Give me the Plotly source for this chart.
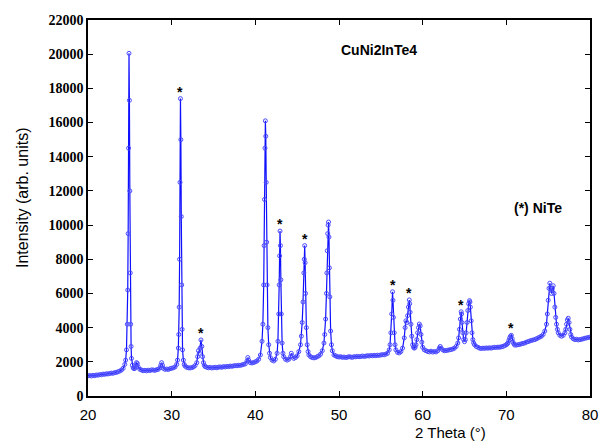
import plotly.graph_objects as go

# ---- data ----
two_theta = [
    20.0, 20.2, 20.4, 20.6, 20.8, 21.0, 21.2, 21.4, 21.6, 21.8, 22.0, 22.2, 22.4, 22.6, 22.8, 23.0,
    23.2, 23.4, 23.6, 23.8, 24.0, 24.2, 24.4, 24.5, 24.6, 24.7, 24.75, 24.8, 24.85, 24.9, 24.95,
    25.0, 25.05, 25.1, 25.15, 25.2, 25.3, 25.4, 25.5, 25.6, 25.7, 25.8, 25.9, 26.0, 26.2, 26.4,
    26.6, 26.8, 27.0, 27.2, 27.4, 27.6, 27.8, 28.0, 28.2, 28.4, 28.6, 28.7, 28.8, 28.9, 29.0,
    29.2, 29.4, 29.6, 29.8, 30.0, 30.2, 30.4, 30.6, 30.7, 30.8, 30.85, 30.9, 30.95, 31.0, 31.05,
    31.1, 31.15, 31.2, 31.25, 31.3, 31.4, 31.5, 31.6, 31.8, 32.0, 32.2, 32.4, 32.6, 32.8, 33.0,
    33.1, 33.2, 33.3, 33.4, 33.5, 33.6, 33.7, 33.8, 33.9, 34.0, 34.2, 34.4, 34.6, 34.8, 35.0,
    35.2, 35.4, 35.6, 35.8, 36.0, 36.2, 36.4, 36.6, 36.8, 37.0, 37.2, 37.4, 37.6, 37.8, 38.0,
    38.2, 38.4, 38.6, 38.8, 39.0, 39.1, 39.2, 39.4, 39.6, 39.8, 40.0, 40.2, 40.4, 40.6, 40.8,
    40.9, 41.0, 41.05, 41.1, 41.15, 41.2, 41.25, 41.3, 41.35, 41.4, 41.5, 41.6, 41.7, 41.8, 42.0,
    42.2, 42.4, 42.6, 42.7, 42.8, 42.85, 42.9, 42.95, 43.0, 43.05, 43.1, 43.2, 43.3, 43.4, 43.6,
    43.8, 44.0, 44.2, 44.3, 44.4, 44.6, 44.8, 45.0, 45.2, 45.4, 45.5, 45.6, 45.7, 45.8, 45.85,
    45.9, 45.95, 46.0, 46.1, 46.2, 46.3, 46.4, 46.6, 46.8, 47.0, 47.2, 47.4, 47.6, 47.8, 48.0,
    48.2, 48.3, 48.4, 48.5, 48.55, 48.6, 48.65, 48.7, 48.75, 48.8, 48.85, 48.9, 49.0, 49.1, 49.2,
    49.4, 49.6, 49.8, 50.0, 50.2, 50.4, 50.6, 50.8, 51.0, 51.2, 51.4, 51.6, 51.8, 52.0, 52.2,
    52.4, 52.6, 52.8, 53.0, 53.2, 53.4, 53.6, 53.8, 54.0, 54.2, 54.4, 54.6, 54.8, 55.0, 55.2,
    55.4, 55.6, 55.8, 56.0, 56.1, 56.2, 56.3, 56.4, 56.45, 56.5, 56.6, 56.7, 56.8, 57.0, 57.2,
    57.4, 57.6, 57.8, 57.9, 58.0, 58.1, 58.2, 58.3, 58.4, 58.45, 58.5, 58.6, 58.7, 58.8, 58.9,
    59.0, 59.1, 59.2, 59.3, 59.4, 59.5, 59.6, 59.7, 59.8, 59.9, 60.0, 60.2, 60.4, 60.6, 60.8,
    61.0, 61.2, 61.4, 61.6, 61.8, 62.0, 62.1, 62.2, 62.4, 62.6, 62.8, 63.0, 63.2, 63.4, 63.6,
    63.8, 64.0, 64.2, 64.3, 64.4, 64.5, 64.6, 64.65, 64.7, 64.8, 64.9, 65.0, 65.1, 65.2, 65.3,
    65.4, 65.5, 65.6, 65.65, 65.7, 65.8, 65.9, 66.0, 66.1, 66.2, 66.4, 66.6, 66.8, 67.0, 67.2,
    67.4, 67.6, 67.8, 68.0, 68.2, 68.4, 68.6, 68.8, 69.0, 69.2, 69.4, 69.6, 69.8, 70.0, 70.1,
    70.2, 70.3, 70.4, 70.5, 70.6, 70.7, 70.8, 70.9, 71.0, 71.2, 71.4, 71.6, 71.8, 72.0, 72.2,
    72.4, 72.6, 72.8, 73.0, 73.2, 73.4, 73.6, 73.8, 74.0, 74.2, 74.4, 74.6, 74.8, 74.9, 75.0,
    75.1, 75.2, 75.3, 75.4, 75.5, 75.6, 75.7, 75.8, 75.9, 76.0, 76.1, 76.2, 76.4, 76.6, 76.8,
    77.0, 77.1, 77.2, 77.3, 77.4, 77.5, 77.6, 77.7, 77.8, 78.0, 78.2, 78.4, 78.6, 78.8, 79.0,
    79.2, 79.4, 79.6, 79.8, 80.0,
]
intensity = [
    1180, 1200, 1170, 1210, 1190, 1230, 1220, 1250, 1240, 1280, 1270, 1300, 1290, 1320, 1340, 1330,
    1370, 1380, 1420, 1460, 1520, 1620, 1850, 2100, 2700, 4200, 6200, 9500, 14500, 20050, 17300,
    12000, 7200, 4200, 2900, 2200, 1800, 1650, 1600, 1620, 1750, 1950, 1900, 1700, 1560, 1520,
    1480, 1500, 1470, 1510, 1490, 1530, 1520, 1500, 1540, 1560, 1650, 1800, 1950, 1800, 1620,
    1560, 1580, 1550, 1600, 1620, 1650, 1700, 1850, 2100, 2800, 3600, 5200, 8000, 12500, 17400,
    15000, 10500, 6500, 3900, 2700, 2100, 1850, 1750, 1680, 1650, 1640, 1660, 1700, 1780, 1950,
    2300, 2650, 2500, 2800, 3280, 2900, 2300, 1950, 1800, 1720, 1680, 1650, 1670, 1640, 1660,
    1680, 1650, 1690, 1700, 1680, 1720, 1700, 1730, 1720, 1750, 1740, 1760, 1780, 1770, 1800,
    1790, 1820, 1850, 1880, 2050, 2250, 2100, 1950, 1930, 1960, 2000, 2050, 2150, 2400, 3200,
    4200, 6500, 8800, 11500, 14500, 16100, 15200, 12500, 9000, 6500, 4000, 3000, 2500, 2250, 2100,
    2050, 2150, 2500, 3200, 4800, 6500, 8200, 9650, 8800, 6800, 4800, 3100, 2500, 2300, 2150,
    2100, 2150, 2300, 2500, 2350, 2200, 2250, 2350, 2600, 3000, 3500, 4300, 5500, 7200, 8000,
    8800, 7800, 6000, 4000, 3000, 2600, 2400, 2300, 2250, 2230, 2250, 2300, 2350, 2450, 2650,
    3100, 3600, 4500, 6000, 7200, 8500, 9500, 10000, 10180, 9300, 7500, 5800, 3800, 3000, 2650,
    2400, 2350, 2300, 2280, 2300, 2260, 2280, 2250, 2270, 2300, 2280, 2260, 2300, 2290, 2320,
    2300, 2310, 2340, 2320, 2330, 2360, 2340, 2370, 2350, 2380, 2360, 2390, 2380, 2400, 2420,
    2410, 2450, 2500, 2700, 3000, 3700, 4800, 6100, 5600, 4600, 3700, 3000, 2700, 2550, 2520,
    2600, 2800, 3400, 4000, 4400, 4300, 4700, 5200, 5620, 5400, 4900, 4200, 3500, 3000, 2850,
    2800, 2850, 3000, 3300, 3700, 4000, 4210, 4100, 3600, 3150, 2850, 2700, 2650, 2600, 2580,
    2620, 2570, 2600, 2580, 2650, 2800, 2900, 2800, 2700, 2650, 2660, 2680, 2700, 2720, 2750,
    2800, 2900, 3100, 3400, 3900, 4500, 4930, 4800, 4300, 3700, 3300, 3180, 3300, 3700, 4300,
    5000, 5400, 5580, 5500, 5200, 4400, 3700, 3300, 3100, 3000, 2900, 2850, 2800, 2780, 2800,
    2790, 2810, 2800, 2820, 2800, 2830, 2850, 2840, 2860, 2850, 2880, 2900, 2950, 3000, 3050,
    3100, 3250, 3400, 3500, 3550, 3350, 3150, 3050, 2980, 2980, 3000, 3020, 3050, 3080, 3100,
    3150, 3180, 3220, 3250, 3280, 3300, 3350, 3400, 3450, 3500, 3600, 3800, 4200, 4800, 5600,
    6300, 6600, 6300, 6000, 6300, 6450, 6000, 5200, 4600, 4200, 3900, 3700, 3550, 3500, 3550,
    3700, 3900, 4200, 4450, 4550, 4300, 3900, 3600, 3450, 3350, 3300, 3320, 3280, 3300, 3320,
    3350, 3380, 3400, 3420, 3450,
]

star_positions = [31.05, 33.5, 42.95, 45.9, 56.4, 58.4, 64.6, 70.6]
star_heights = [17400, 3280, 9650, 8800, 6100, 5620, 4930, 3550]

x_ticks = [20, 30, 40, 50, 60, 70, 80]
y_ticks = [0, 2000, 4000, 6000, 8000, 10000, 12000, 14000, 16000, 18000, 20000, 22000]

fig = go.Figure()
fig.add_trace(go.Scatter(
    x=two_theta, y=intensity, mode="lines+markers",
    line=dict(color="#1010ff", width=1.2),
    marker=dict(symbol="circle-open", size=4, color="#4a4aff", line=dict(width=1)),
    showlegend=False,
))

annotations = []
for sx, sy in zip(star_positions, star_heights):
    annotations.append(dict(
        x=sx, y=sy, xref="x", yref="y", text="<b>*</b>", showarrow=False,
        xanchor="center", yanchor="bottom", yshift=-3,
        font=dict(family="Liberation Sans, Arial", size=14, color="black"),
    ))

annotations += [
    dict(x=379, y=50, xref="paper", yref="paper", text="<b>CuNi2InTe4</b>", showarrow=False,
         font=dict(family="Liberation Sans, Arial", size=14, color="black")),
    dict(x=538, y=208, xref="paper", yref="paper", text="<b>(*) NiTe</b>", showarrow=False,
         font=dict(family="Liberation Sans, Arial", size=14, color="black")),
    dict(x=450, y=432, xref="paper", yref="paper", text="2 Theta (°)", showarrow=False,
         font=dict(family="Liberation Sans, Arial", size=15, color="black")),
    dict(x=23, y=198, xref="paper", yref="paper", text="Intensity (arb. units)", showarrow=False,
         textangle=-90, font=dict(family="Liberation Sans, Arial", size=16, color="black")),
]

# convert pixel positions of the text annotations to paper fractions
W, H = 599, 443
L, R, T, B = 88, 9, 20, 47
pw, ph = W - L - R, H - T - B
for a in annotations:
    if a["xref"] == "paper":
        a["x"] = (a["x"] - L) / pw
        a["y"] = 1 - (a["y"] - T) / ph
        a["xanchor"] = "center"
        a["yanchor"] = "middle"

fig.update_layout(
    template="none",
    width=W, height=H, autosize=False,
    margin=dict(l=L, r=R, t=T, b=B),
    plot_bgcolor="white", paper_bgcolor="white",
    annotations=annotations,
    xaxis=dict(
        range=[20, 80], tickvals=x_ticks, ticks="inside", ticklen=5, tickwidth=1.2,
        tickcolor="black", showline=True, linecolor="black", linewidth=1.5, mirror="ticks",
        showgrid=False, zeroline=False, automargin=False, ticklabelstandoff=4,
        tickfont=dict(family="Liberation Sans, Arial", size=15, color="black"),
    ),
    yaxis=dict(
        range=[0, 22000], tickvals=y_ticks, tickformat="d", ticks="inside", ticklen=5,
        tickwidth=1.2, tickcolor="black", showline=True, linecolor="black", linewidth=1.5,
        mirror="ticks", showgrid=False, zeroline=False, automargin=False,
        tickfont=dict(family="Liberation Serif, Times New Roman", size=14, color="black",
                      weight="bold"),
    ),
)

post = "document.body.style.margin='0';document.body.style.overflow='hidden';"
fig.write_html("out.html", config={"responsive": False, "displayModeBar": False},
               post_script=post)
